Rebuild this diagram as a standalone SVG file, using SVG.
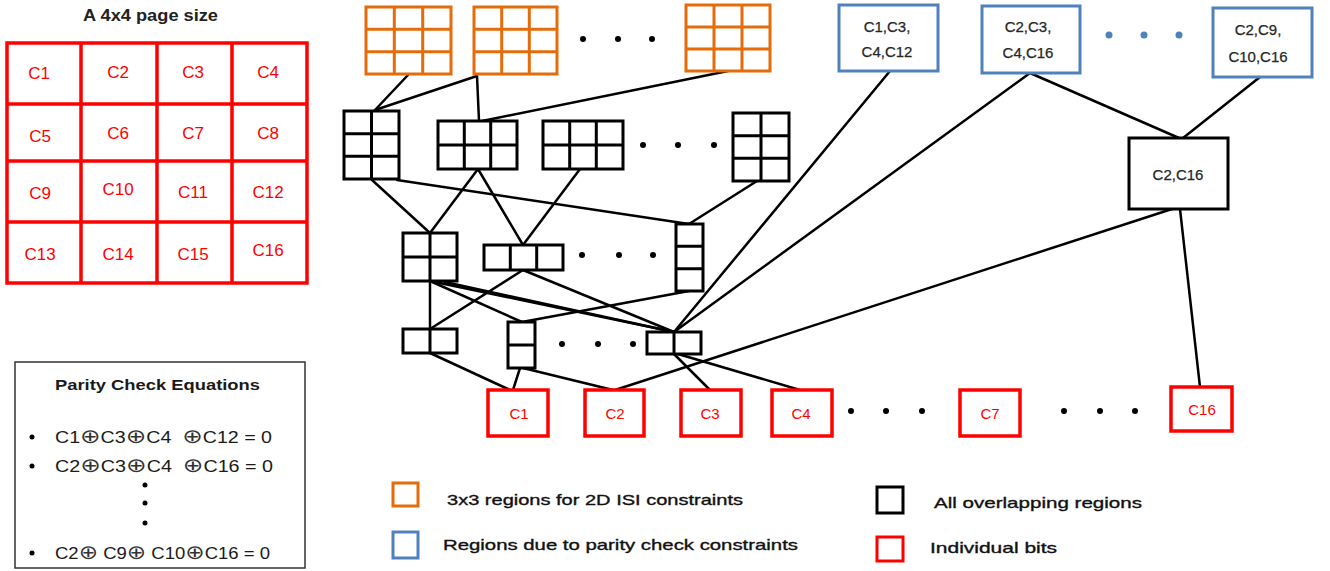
<svg xmlns="http://www.w3.org/2000/svg" width="1330" height="571" viewBox="0 0 1330 571">
<style>
text{font-family:"Liberation Sans",Arial,sans-serif;}
.grid{fill:none;stroke:#ff0000;stroke-width:3.5;}
.gl{font-size:17px;fill:#ff0000;text-anchor:middle;}
.or{fill:#fff;stroke:#e46c0a;stroke-width:3;}
.orl{fill:none;stroke:#e46c0a;stroke-width:3;}
.bl{fill:#fff;stroke:#4f81bd;stroke-width:3;}
.bk{fill:#fff;stroke:#000;stroke-width:3;}
.bkl{fill:none;stroke:#000;stroke-width:3;}
.rd{fill:#fff;stroke:#ff0000;stroke-width:3.5;}
.rdl{font-size:15px;fill:#ff0000;text-anchor:middle;}
.nl{font-size:15px;fill:#262626;text-anchor:middle;stroke:#262626;stroke-width:0.25;}
.conn line{stroke:#000;stroke-width:2.5;stroke-linecap:round;}
.dot{fill:#000;}
.bdot{fill:#4f81bd;}
.eq{font-size:16px;fill:#1a1a1a;}
.op{font-size:20px;font-family:"DejaVu Sans",sans-serif;fill:#333;}
.lg{font-size:15px;fill:#111;stroke:#111;stroke-width:0.35;}
</style>

<!-- 4x4 page -->
<g id="page-grid">
<text x="83" y="21" font-size="16" font-weight="bold" fill="#222" textLength="135" lengthAdjust="spacingAndGlyphs">A 4x4 page size</text>
<rect class="grid" x="7" y="43" width="300" height="240"/>
<path class="grid" d="M81,43V283M157,43V283M232,43V283M7,104H307M7,161H307M7,222H307"/>
<text class="gl" x="39" y="79">C1</text>
<text class="gl" x="118" y="78">C2</text>
<text class="gl" x="193" y="78">C3</text>
<text class="gl" x="268" y="78">C4</text>
<text class="gl" x="40" y="142">C5</text>
<text class="gl" x="118" y="139">C6</text>
<text class="gl" x="193" y="139">C7</text>
<text class="gl" x="268" y="139">C8</text>
<text class="gl" x="40" y="199">C9</text>
<text class="gl" x="118" y="195">C10</text>
<text class="gl" x="193" y="198">C11</text>
<text class="gl" x="268" y="198">C12</text>
<text class="gl" x="40" y="260">C13</text>
<text class="gl" x="118" y="260">C14</text>
<text class="gl" x="193" y="260">C15</text>
<text class="gl" x="268" y="256">C16</text>
</g>

<!-- parity equations -->
<g id="parity-box">
<rect x="15" y="362" width="290" height="206" fill="#fff" stroke="#333" stroke-width="1.5"/>
<text x="55" y="390" font-size="15" font-weight="bold" fill="#1a1a1a" textLength="205" lengthAdjust="spacingAndGlyphs">Parity Check Equations</text>
<circle class="dot" cx="32" cy="437" r="2.5"/>
<circle class="dot" cx="32" cy="466" r="2.5"/>
<circle class="dot" cx="32" cy="553" r="2.5"/>
<text class="eq" x="55" y="443" xml:space="preserve" textLength="217" lengthAdjust="spacingAndGlyphs">C1<tspan class="op">⊕</tspan>C3<tspan class="op">⊕</tspan>C4  <tspan class="op">⊕</tspan>C12 = 0</text>
<text class="eq" x="55" y="472" xml:space="preserve" textLength="218" lengthAdjust="spacingAndGlyphs">C2<tspan class="op">⊕</tspan>C3<tspan class="op">⊕</tspan>C4  <tspan class="op">⊕</tspan>C16 = 0</text>
<circle class="dot" cx="145" cy="485" r="2.5"/>
<circle class="dot" cx="145" cy="503" r="2.5"/>
<circle class="dot" cx="145" cy="523" r="2.5"/>
<text class="eq" x="55" y="559" xml:space="preserve" textLength="215" lengthAdjust="spacingAndGlyphs">C2<tspan class="op">⊕</tspan> C9<tspan class="op">⊕</tspan> C10<tspan class="op">⊕</tspan>C16 = 0</text>
</g>

<!-- connectors -->
<g id="connectors" class="conn">
<line x1="408" y1="75" x2="375" y2="110"/>
<line x1="477" y1="76" x2="375" y2="110"/>
<line x1="477" y1="76" x2="479" y2="121"/>
<line x1="728" y1="71" x2="482" y2="121"/>
<line x1="372" y1="180" x2="430" y2="233"/>
<line x1="397" y1="180" x2="689" y2="224"/>
<line x1="478" y1="169" x2="430" y2="233"/>
<line x1="478" y1="169" x2="523" y2="245"/>
<line x1="580" y1="169" x2="523" y2="245"/>
<line x1="757" y1="181" x2="689" y2="224"/>
<line x1="430" y1="281" x2="430" y2="329"/>
<line x1="430" y1="281" x2="522" y2="322"/>
<line x1="430" y1="281" x2="674" y2="332"/>
<line x1="445" y1="282" x2="674" y2="332"/>
<line x1="523" y1="270" x2="430" y2="329"/>
<line x1="523" y1="270" x2="674" y2="332"/>
<line x1="689" y1="291" x2="522" y2="322"/>
<line x1="890" y1="71" x2="674" y2="332"/>
<line x1="1030" y1="73" x2="674" y2="332"/>
<line x1="1030" y1="73" x2="1179" y2="138"/>
<line x1="1260" y1="77" x2="1183" y2="138"/>
<line x1="1172" y1="209" x2="615" y2="390"/>
<line x1="1180" y1="209" x2="1200" y2="387"/>
<line x1="430" y1="353" x2="510" y2="390"/>
<line x1="520" y1="368" x2="513" y2="390"/>
<line x1="523" y1="368" x2="613" y2="390"/>
<line x1="674" y1="354" x2="710" y2="390"/>
<line x1="678" y1="354" x2="800" y2="390"/>
</g>

<!-- orange 3x3 regions -->
<g id="orange-1"><rect class="or" x="366" y="7" width="85" height="67"/><path class="orl" d="M394.3,7V74M422.7,7V74M366,29.3H451M366,51.7H451"/></g>
<g id="orange-2"><rect class="or" x="474" y="7" width="83" height="67"/><path class="orl" d="M501.7,7V74M529.3,7V74M474,29.3H557M474,51.7H557"/></g>
<g id="orange-dots"><circle class="dot" cx="583" cy="39" r="3"/><circle class="dot" cx="618" cy="39" r="3"/><circle class="dot" cx="652" cy="39" r="3"/></g>
<g id="orange-3"><rect class="or" x="686" y="5" width="84" height="66"/><path class="orl" d="M714,5V71M742,5V71M686,27H770M686,49H770"/></g>

<!-- blue parity regions -->
<g id="blue-1"><rect class="bl" x="839" y="5" width="99" height="66"/><text class="nl" x="887" y="32">C1,C3,</text><text class="nl" x="887" y="57">C4,C12</text></g>
<g id="blue-2"><rect class="bl" x="982" y="6" width="98" height="67"/><text class="nl" x="1028" y="32">C2,C3,</text><text class="nl" x="1028" y="58">C4,C16</text></g>
<g id="blue-dots"><circle class="bdot" cx="1109" cy="35" r="3.5"/><circle class="bdot" cx="1144" cy="35" r="3.5"/><circle class="bdot" cx="1179" cy="35" r="3.5"/></g>
<g id="blue-3"><rect class="bl" x="1213" y="8" width="99" height="69"/><text class="nl" x="1258" y="35">C2,C9,</text><text class="nl" x="1258" y="62">C10,C16</text></g>

<!-- level 2 black regions -->
<g id="region-a"><rect class="bk" x="344" y="111" width="55" height="68"/><path class="bkl" d="M371.5,111V179M344,133.7H399M344,156.3H399"/></g>
<g id="region-b"><rect class="bk" x="438" y="121" width="79" height="48"/><path class="bkl" d="M464.3,121V169M490.7,121V169M438,145H517"/></g>
<g id="region-c"><rect class="bk" x="543" y="121" width="80" height="48"/><path class="bkl" d="M569.7,121V169M596.3,121V169M543,145H623"/></g>
<g id="dots-2"><circle class="dot" cx="643" cy="145" r="3"/><circle class="dot" cx="678" cy="145" r="3"/><circle class="dot" cx="714" cy="145" r="3"/></g>
<g id="region-d"><rect class="bk" x="733" y="113" width="56" height="68"/><path class="bkl" d="M761,113V181M733,135.7H789M733,158.3H789"/></g>

<!-- level 3 -->
<g id="region-e"><rect class="bk" x="403" y="233" width="54" height="48"/><path class="bkl" d="M430,233V281M403,257H457"/></g>
<g id="region-f"><rect class="bk" x="484" y="245" width="79" height="25"/><path class="bkl" d="M510.3,245V270M536.7,245V270"/></g>
<g id="dots-3"><circle class="dot" cx="582" cy="255" r="3"/><circle class="dot" cx="619" cy="255" r="3"/><circle class="dot" cx="653" cy="255" r="3"/></g>
<g id="region-g"><rect class="bk" x="676" y="224" width="27" height="67"/><path class="bkl" d="M676,246.3H703M676,268.7H703"/></g>

<!-- level 4 -->
<g id="region-h"><rect class="bk" x="403" y="329" width="54" height="24"/><path class="bkl" d="M430,329V353"/></g>
<g id="region-i"><rect class="bk" x="508" y="322" width="27" height="46"/><path class="bkl" d="M508,345H535"/></g>
<g id="dots-4"><circle class="dot" cx="562" cy="344" r="3"/><circle class="dot" cx="598" cy="344" r="3"/><circle class="dot" cx="633" cy="344" r="3"/></g>
<g id="region-j"><rect class="bk" x="647" y="332" width="54" height="22"/><path class="bkl" d="M674,332V354"/></g>

<g id="region-c2c16"><rect class="bk" x="1129" y="138" width="99" height="71"/><text class="nl" x="1178" y="180">C2,C16</text></g>

<!-- individual bits -->
<g id="bit-c1"><rect class="rd" x="488" y="390" width="60" height="46"/><text class="rdl" x="519" y="419">C1</text></g>
<g id="bit-c2"><rect class="rd" x="585" y="390" width="59" height="46"/><text class="rdl" x="615" y="419">C2</text></g>
<g id="bit-c3"><rect class="rd" x="681" y="390" width="60" height="46"/><text class="rdl" x="710" y="419">C3</text></g>
<g id="bit-c4"><rect class="rd" x="772" y="390" width="60" height="46"/><text class="rdl" x="801" y="419">C4</text></g>
<g id="dots-bits-1"><circle class="dot" cx="851" cy="411" r="3"/><circle class="dot" cx="886" cy="411" r="3"/><circle class="dot" cx="922" cy="411" r="3"/></g>
<g id="bit-c7"><rect class="rd" x="960" y="390" width="60" height="46"/><text class="rdl" x="990" y="419">C7</text></g>
<g id="dots-bits-2"><circle class="dot" cx="1064" cy="411" r="3"/><circle class="dot" cx="1100" cy="411" r="3"/><circle class="dot" cx="1135" cy="411" r="3"/></g>
<g id="bit-c16"><rect class="rd" x="1171" y="387" width="61" height="44"/><text class="rdl" x="1202" y="415">C16</text></g>

<!-- legend -->
<g id="legend">
<rect x="393" y="483" width="25" height="23" fill="none" stroke="#e46c0a" stroke-width="3"/>
<text class="lg" x="447" y="505" textLength="296" lengthAdjust="spacingAndGlyphs">3x3 regions for 2D ISI constraints</text>
<rect x="393" y="532" width="25" height="26" fill="none" stroke="#4f81bd" stroke-width="3"/>
<text class="lg" x="443" y="550" textLength="355" lengthAdjust="spacingAndGlyphs">Regions due to parity check constraints</text>
<rect x="877" y="487" width="26" height="26" fill="none" stroke="#000" stroke-width="3"/>
<text class="lg" x="934" y="508" textLength="208" lengthAdjust="spacingAndGlyphs">All overlapping regions</text>
<rect x="877" y="537" width="26" height="24" fill="none" stroke="#ff0000" stroke-width="3"/>
<text class="lg" x="930" y="553" textLength="127" lengthAdjust="spacingAndGlyphs">Individual bits</text>
</g>
</svg>
